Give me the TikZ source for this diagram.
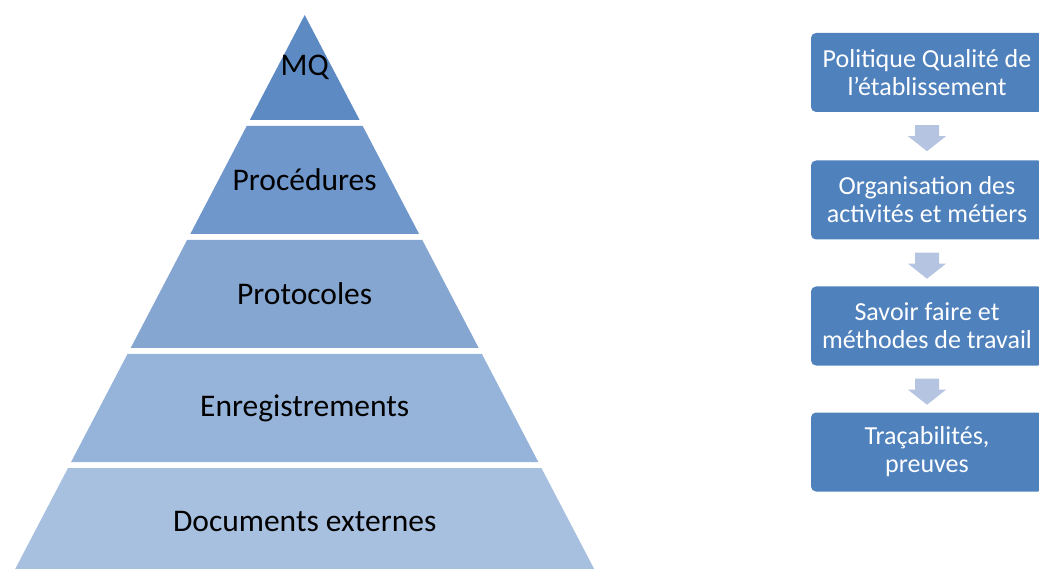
\documentclass[tikz,border=0pt]{standalone}
\usepackage{fontspec}
\setmainfont{Carlito}[Ligatures={ResetAll}]
\definecolor{lay1}{HTML}{5E8AC4}
\definecolor{lay2}{HTML}{6F97CC}
\definecolor{lay3}{HTML}{85A6D0}
\definecolor{lay4}{HTML}{96B3D9}
\definecolor{lay5}{HTML}{A8C0DF}
\definecolor{boxblue}{HTML}{4F81BD}
\definecolor{arrowblue}{HTML}{B4C4E1}
\tikzset{
  laytext/.style={font=\fontsize{31.5}{36}\selectfont, text=black, inner sep=0pt},
  stepbox/.style={rectangle, rounded corners=5pt, fill=boxblue, text=white,
    minimum width=232pt, minimum height=79pt, align=center, inner sep=0pt,
    font=\fontsize{26}{28}\selectfont},
  downarrow/.style={fill=arrowblue, draw=none}
}
\begin{document}
\begin{tikzpicture}[x=1pt,y=-1pt]
\useasboundingbox (0,0) rectangle (1039,569);
\clip (0,0) rectangle (1039,569);
% pyramid layers
\fill[lay1] (304.7,15) -- (359.6,120) -- (249.8,120) -- cycle;
\fill[lay2] (246.7,126) -- (362.7,126) -- (419.1,234) -- (190.3,234) -- cycle;
\fill[lay3] (187.1,240) -- (422.3,240) -- (478.7,348) -- (130.7,348) -- cycle;
\fill[lay4] (127.5,354) -- (481.9,354) -- (538.3,462) -- (71.1,462) -- cycle;
\fill[lay5] (68.0,468) -- (541.4,468) -- (594.2,569) -- (15.2,569) -- cycle;
\node[laytext] (mq) at (304.7,67) {MQ};
\node[laytext] (proc) at (304.7,180) {Procédures};
\node[laytext] (prot) at (304.7,294) {Protocoles};
\node[laytext] (enr) at (304.7,408) {Enregistrements};
\node[laytext] (doc) at (304.7,522) {Documents externes};
% right column
\node[stepbox] (b1) at (927,72.5) {Politique Qualité de\\l'établissement};
\node[stepbox] (b2) at (927,200) {Organisation des\\activités et métiers};
\node[stepbox] (b3) at (927,326) {Savoir faire et\\méthodes de travail};
\node[stepbox] (b4) at (927,452) {Traçabilités,\\preuves};
\foreach \a/\b in {b1/b2,b2/b3,b3/b4}{
  \path (\a.south) ++(0,13) coordinate (t);
  \fill[downarrow] (t) ++(-12,0) -- ++(24,0) -- ++(0,11) -- ++(7,0) -- ++(-19,15) -- ++(-19,-15) -- ++(7,0) -- cycle;
}
\end{tikzpicture}
\end{document}
